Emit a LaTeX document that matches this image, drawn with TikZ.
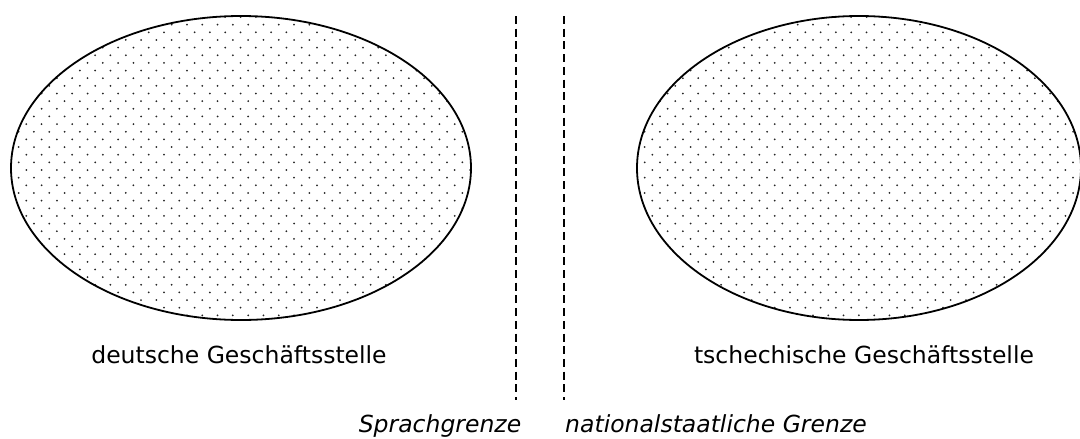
\documentclass[tikz,border=0pt]{standalone}
\usepackage{fontspec}
\setmainfont{DejaVu Sans}
\usetikzlibrary{shapes.geometric}
\tikzset{
  office/.style={draw=black, line width=1.8pt, ellipse, inner sep=0pt},
  label/.style={font=\fontsize{23.5}{26}\selectfont, inner sep=0pt, anchor=base},
  ilabel/.style={font=\fontsize{23.5}{26}\selectfont\itshape, inner sep=0pt, anchor=base},
  border/.style={line width=1.6pt, dash pattern=on 8pt off 4.7pt},
  dotc/.style={fill=black!85}
}
\newcommand{\myDotFill}[4]{% cx cy rx ry
  \begin{scope}
    \clip (#1,#2) ellipse [x radius=#3, y radius=#4];
    \foreach \j in {0,...,42} {
      \pgfmathsetmacro{\yy}{#2-#4+1+\j*7.65}
      \pgfmathsetmacro{\xo}{mod(\j,2)*7.65}
      \foreach \i in {0,...,31} {
        \fill[dotc] ({#1-#3+\xo+\i*15.3},\yy) circle (1.0);
      }
    }
  \end{scope}
}
\begin{document}
\begin{tikzpicture}[x=1pt,y=-1pt]
\useasboundingbox (0,0) rectangle (1080,439);
\myDotFill{241}{168}{230}{152}
\myDotFill{859}{168}{222}{152}
\node[office, minimum width=460pt, minimum height=304pt] (de) at (241,168) {};
\node[office, minimum width=444pt, minimum height=304pt] (cz) at (859,168) {};
\node[label] (tde) at (239,363) {deutsche Geschäftsstelle};
\node[label] (tcz) at (864,363) {tschechische Geschäftsstelle};
\coordinate (s1) at (516,16);
\coordinate (s2) at (516,400);
\coordinate (n1) at (564,16);
\coordinate (n2) at (564,400);
\draw[border] (s1) -- (s2);
\draw[border] (n1) -- (n2);
\node[ilabel] (ts) at (440,432) {Sprachgrenze};
\node[ilabel] (tn) at (716,432) {nationalstaatliche Grenze};
\end{tikzpicture}
\end{document}
